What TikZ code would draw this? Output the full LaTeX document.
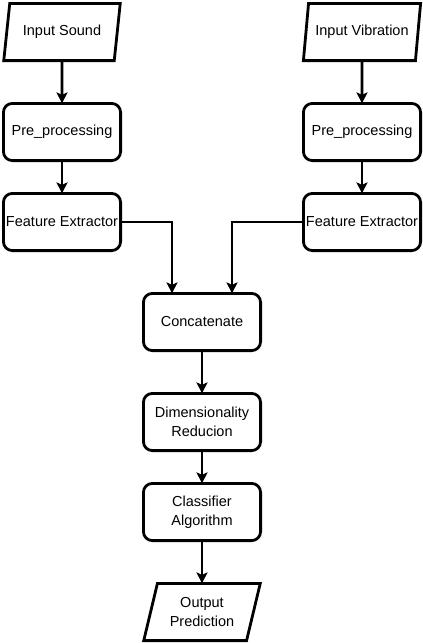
\documentclass[tikz,border=0pt]{standalone}
\usepackage{fontspec}
\setmainfont{Liberation Sans}
\usetikzlibrary{arrows.meta,positioning,shapes.geometric}

\begin{document}
\begin{tikzpicture}[x=1pt,y=-1pt,
    box/.style={draw, line width=2.8pt, rounded corners=9pt, minimum width=117.2pt,
      minimum height=57.2pt, inner sep=0pt, outer sep=0pt, align=center,
      font=\fontsize{14.5}{19.5}\selectfont},
    io/.style={draw, line width=2.8pt, trapezium, trapezium left angle=71.6,
      trapezium right angle=108.4, trapezium stretches=true, minimum width=117.2pt,
      minimum height=57.2pt, inner sep=0pt, outer sep=0pt, align=center,
      font=\fontsize{14.5}{19.5}\selectfont},
    flow/.style={line width=2.8pt, -{Stealth[length=11pt,width=11pt,inset=2.5pt]}}]
  \useasboundingbox (0,0) rectangle (423,643);
  % two input branches
  \node[io]  (sound) at (62,32)   {Input Sound};
  \node[box] (preL)  at (62,132)  {Pre\_processing};
  \node[box] (featL) at (62,222)  {Feature Extractor};
  \node[io]  (vib)   at (362,32)  {Input Vibration};
  \node[box] (preR)  at (362,132) {Pre\_processing};
  \node[box] (featR) at (362,222) {Feature Extractor};
  % merged chain
  \node[box] (concat)  at (202,322) {Concatenate};
  \node[box] (dimred)  at (202,422) {Dimensionality\\Reducion};
  \node[box] (classif) at (202,512) {Classifier\\Algorithm};
  \node[io]  (output)  at (202,612) {Output\\Prediction};
  % connectors
  \draw[flow] (sound) -- (preL);
  \draw[flow] (preL) -- (featL);
  \draw[flow] (vib) -- (preR);
  \draw[flow] (preR) -- (featR);
  \draw[flow] (featL.east) -| ([xshift=-30pt]concat.north);
  \draw[flow] (featR.west) -| ([xshift=30pt]concat.north);
  \draw[flow] (concat) -- (dimred);
  \draw[flow] (dimred) -- (classif);
  \draw[flow] (classif) -- (output);
\end{tikzpicture}
\end{document}
